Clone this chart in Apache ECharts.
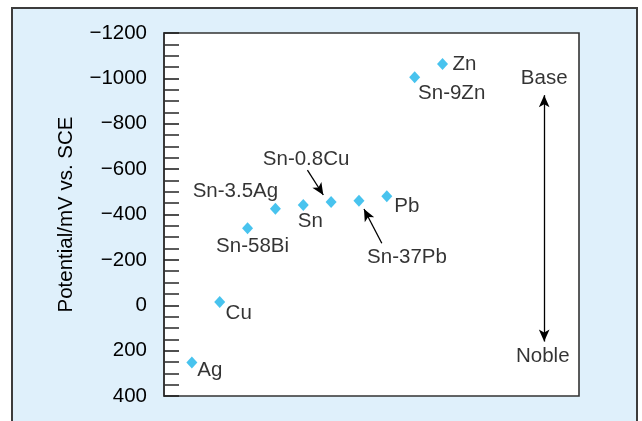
<!DOCTYPE html>
<html>
<head>
<meta charset="utf-8">
<script src="https://cdn.jsdelivr.net/npm/echarts@6/dist/echarts.min.js"></script>
<style>
  html, body { margin: 0; padding: 0; background: #fff; }
  #main { width: 642px; height: 421px; }
</style>
</head>
<body>
<div id="main"></div>
<script>
// data
var names = ['Ag', 'Cu', 'Sn-58Bi', 'Sn-3.5Ag', 'Sn', 'Sn-0.8Cu', 'Sn-37Pb', 'Pb', 'Sn-9Zn', 'Zn'];
var xPos = [1, 2, 3, 4, 5, 6, 7, 8, 9, 10];
var potentials = [252, -14, -339, -425, -442, -455, -461, -480, -1005, -1063];
// label offset from the point (text centre - point centre)
var labelOffsets = [[18, 8], [19, 11], [5, 18], [-40, -17], [7, 16], [-25, -43], [48, 57], [20, 10], [37, 16], [22, 0]];

var yMin = -1200, yMax = 400, yStep = 200;
var font = 'Liberation Sans';
var fs = 20.5;

var chart = echarts.init(document.getElementById('main'));

var pts = names.map(function (n, i) {
  return {
    name: n,
    value: [xPos[i], potentials[i]],
    label: { offset: labelOffsets[i] }
  };
});

chart.setOption({
  animation: false,
  backgroundColor: '#ffffff',
  graphic: [{
    type: 'rect',
    z: -10,
    shape: { x: 12, y: 8, width: 625, height: 440 },
    style: { fill: '#dff0fb', stroke: '#3c3c3c', lineWidth: 2 }
  }],
  grid: {
    left: 164, right: 63, top: 33, bottom: 25,
    show: true,
    backgroundColor: '#ffffff',
    borderColor: '#333',
    borderWidth: 1.6
  },
  xAxis: {
    type: 'value',
    min: 0, max: 14.9,
    show: false
  },
  yAxis: {
    type: 'value',
    inverse: true,
    min: yMin, max: yMax, interval: yStep,
    name: 'Potential/mV vs. SCE',
    nameLocation: 'middle',
    nameGap: 87,
    nameTextStyle: { fontFamily: font, fontSize: fs, color: '#000' },
    axisLine: { show: true, lineStyle: { color: '#333', width: 1.6 } },
    axisTick: { show: true, inside: true, length: 15, lineStyle: { color: '#222', width: 1.6 } },
    minorTick: { show: true, splitNumber: 4, length: 15, lineStyle: { color: '#333', width: 1.6 } },
    splitLine: { show: false },
    axisLabel: {
      margin: 17,
      fontFamily: font, fontSize: fs, color: '#000',
      formatter: function (v) { return v < 0 ? '\u2212' + Math.abs(v) : String(v); }
    }
  },
  series: [{
    type: 'scatter',
    symbol: 'diamond',
    symbolSize: [11, 12],
    itemStyle: { color: '#1ab4ea' },
    label: {
      show: true,
      position: 'inside',
      align: 'center',
      verticalAlign: 'middle',
      formatter: '{b}',
      fontFamily: font, fontSize: fs, color: '#000'
    },
    data: pts,
    markLine: {
      silent: true,
      symbol: ['none', 'arrow'],
      symbolSize: [8, 12],
      label: { show: false },
      lineStyle: { color: '#000', width: 1.3, type: 'solid' },
      data: [
        [{ coord: [5.15, -596] }, { coord: [5.72, -486] }],
        [{ coord: [7.82, -273] }, { coord: [7.18, -424] }],
        [{ coord: [13.65, 160], symbol: 'arrow' }, { coord: [13.65, -926] }]
      ]
    }
  }, {
    type: 'scatter',
    symbolSize: 0,
    label: {
      show: true, position: 'inside', formatter: '{b}',
      fontFamily: font, fontSize: fs, color: '#000'
    },
    data: [
      { name: 'Base', value: [13.65, -1000] },
      { name: 'Noble', value: [13.6, 224] }
    ]
  }]
});
</script>
</body>
</html>
